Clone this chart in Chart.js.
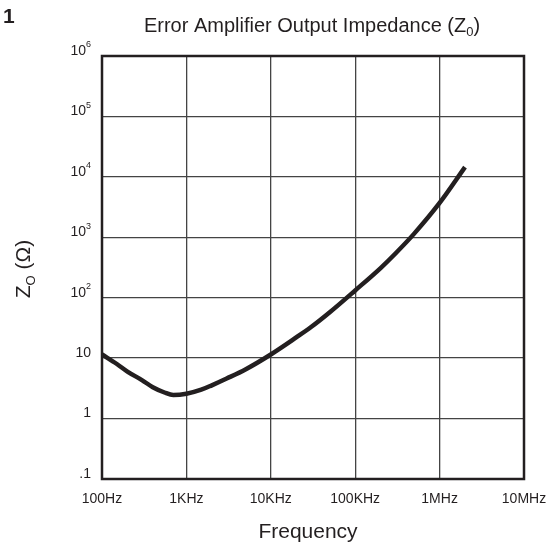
<!DOCTYPE html>
<html>
<head>
<meta charset="utf-8">
<script src="https://cdn.jsdelivr.net/npm/chart.js@4.4.0/dist/chart.umd.min.js"></script>
<style>
  html, body { margin: 0; padding: 0; background: #fff; }
  #wrap { width: 553px; height: 543px; }
</style>
</head>
<body>
<div id="wrap"><canvas id="zoChart" width="553" height="543"></canvas></div>
<script>
// data
const freq = [100, 150, 200, 300, 400, 550, 700, 1000, 1500, 2000, 3000, 5000,
              10000, 20000, 30000, 50000, 100000, 200000, 300000, 500000, 1000000, 2000000];
const impedance = [11.5, 8, 6, 4.3, 3.3, 2.7, 2.45, 2.57, 3.0, 3.55, 4.6, 6.5,
                   11.5, 22, 32.7, 57.5, 132, 310, 540, 1150, 3700, 14500];

const xTicks = [100, 1000, 10000, 100000, 1000000, 10000000];
const xTickLabels = ['100Hz', '1KHz', '10KHz', '100KHz', '1MHz', '10MHz'];
const yTicks = [0.1, 1, 10, 100, 1000, 10000, 100000, 1000000];
const yTickLabels = ['.1', '1', '10', '10^2', '10^3', '10^4', '10^5', '10^6'];

const ink = '#231f20';
const fam = '"Liberation Sans", Arial, Helvetica, sans-serif';

// texte, bordure et etiquettes de l'axe Y
const textPlugin = {
    id: 'textPlugin',
    afterDraw(chart) {
        const ctx = chart.ctx;
        const area = chart.chartArea;
        const ys = chart.scales.y;
        ctx.save();
        ctx.fillStyle = ink;

        // cadre du graphique
        ctx.strokeStyle = ink;
        ctx.lineWidth = 2.5;
        ctx.strokeRect(area.left, area.top, area.right - area.left, area.bottom - area.top);

        // numero de figure
        ctx.font = 'bold 21px ' + fam;
        ctx.textBaseline = 'alphabetic';
        ctx.textAlign = 'left';
        ctx.fillText('1', 3, 23);

        // titre avec indice
        ctx.font = '20px ' + fam;
        const t1 = 'Error Amplifier Output Impedance (Z';
        const w1 = ctx.measureText(t1).width;
        ctx.font = '13px ' + fam;
        const w2 = ctx.measureText('0').width;
        ctx.font = '20px ' + fam;
        const w3 = ctx.measureText(')').width;
        let tx = 312 - (w1 + w2 + w3) / 2;
        ctx.fillText(t1, tx, 32);
        ctx.font = '13px ' + fam;
        ctx.fillText('0', tx + w1, 36);
        ctx.font = '20px ' + fam;
        ctx.fillText(')', tx + w1 + w2, 32);

        // titre axe X
        ctx.font = '21px ' + fam;
        ctx.textAlign = 'center';
        ctx.fillText('Frequency', 308, 538);

        // titre axe Y (tourne)
        ctx.save();
        ctx.translate(30, 269);
        ctx.rotate(-Math.PI / 2);
        ctx.textAlign = 'left';
        ctx.font = '21px ' + fam;
        const zw = ctx.measureText('Z').width;
        const rest = ' (\u03A9)';
        const rw = ctx.measureText(rest).width;
        ctx.font = '13px ' + fam;
        const ow = ctx.measureText('O').width;
        let sx = -(zw + ow + rw) / 2;
        ctx.font = '21px ' + fam;
        ctx.fillText('Z', sx, 0);
        ctx.font = '13px ' + fam;
        ctx.fillText('O', sx + zw, 5);
        ctx.font = '21px ' + fam;
        ctx.fillText(rest, sx + zw + ow, 0);
        ctx.restore();

        // etiquettes Y avec exposants
        ctx.textAlign = 'left';
        ctx.textBaseline = 'middle';
        yTicks.forEach(function(v, i) {
            const py = ys.getPixelForValue(v) - 5;
            const lab = yTickLabels[i];
            const right = 91;
            if (lab.indexOf('^') >= 0) {
                const parts = lab.split('^');
                ctx.font = '14px ' + fam;
                const bw = ctx.measureText(parts[0]).width;
                ctx.font = '9px ' + fam;
                const ew = ctx.measureText(parts[1]).width;
                ctx.font = '14px ' + fam;
                ctx.fillText(parts[0], right - bw - ew, py);
                ctx.font = '9px ' + fam;
                ctx.fillText(parts[1], right - ew, py - 6);
            } else {
                ctx.font = '14px ' + fam;
                const w = ctx.measureText(lab).width;
                ctx.fillText(lab, right - w, py);
            }
        });
        ctx.restore();
    }
};

const ctx = document.getElementById('zoChart').getContext('2d');
new Chart(ctx, {
    type: 'line',
    data: {
        labels: freq,
        datasets: [{
            label: 'Zo',
            data: freq.map(function(f, i) { return { x: f, y: impedance[i] }; }),
            borderColor: ink,
            borderWidth: 4.5,
            pointRadius: 0,
            cubicInterpolationMode: 'monotone',
            fill: false
        }]
    },
    options: {
        responsive: false,
        animation: false,
        layout: { padding: { top: 56, right: 29, left: 0, bottom: 0 } },
        plugins: {
            legend: { display: false },
            title: { display: false },
            tooltip: { enabled: false }
        },
        scales: {
            x: {
                type: 'logarithmic',
                min: 100,
                max: 10000000,
                afterBuildTicks: function(scale) {
                    scale.ticks = xTicks.map(function(v) { return { value: v }; });
                },
                afterFit: function(scale) {
                    scale.height = 64;
                    scale.paddingLeft = 0;
                    scale.paddingRight = 0;
                },
                grid: { color: '#444', lineWidth: 1.3, drawTicks: false },
                border: { display: false },
                ticks: {
                    autoSkip: false,
                    maxRotation: 0,
                    padding: 12,
                    color: ink,
                    font: { family: fam, size: 14 },
                    callback: function(value, index) { return xTickLabels[index]; }
                }
            },
            y: {
                type: 'logarithmic',
                min: 0.1,
                max: 1000000,
                afterBuildTicks: function(scale) {
                    scale.ticks = yTicks.map(function(v) { return { value: v }; });
                },
                afterFit: function(scale) { scale.width = 102; },
                grid: { color: '#444', lineWidth: 1.3, drawTicks: false },
                border: { display: false },
                ticks: { display: false }
            }
        }
    },
    plugins: [textPlugin]
});
</script>
</body>
</html>
